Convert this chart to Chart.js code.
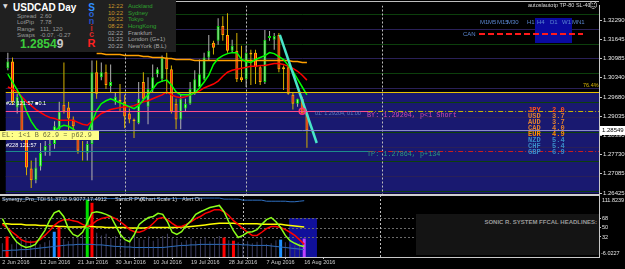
<!DOCTYPE html>
<html>
<head>
<meta charset="utf-8">
<title>USDCAD Day</title>
<script src="https://cdn.jsdelivr.net/npm/chart.js@4.4.1/dist/chart.umd.min.js"></script>
<style>
html,body{margin:0;padding:0;background:#000;}
#wrap{position:relative;width:625px;height:269px;overflow:hidden;background:#000;font-family:"Liberation Sans",Arial,sans-serif;}
#wrap canvas{position:absolute;left:0;}
.t{position:absolute;white-space:nowrap;line-height:1;}
.m{font-family:"Liberation Mono","DejaVu Sans Mono",monospace;}
.b{font-weight:bold;}
</style>
</head>
<body>
<div id="wrap">
<canvas id="main" width="625" height="200" style="top:0px"></canvas>
<canvas id="ind" width="625" height="74" style="top:195px"></canvas>
<div style="position:absolute;left:176px;top:1px;width:423px;height:1px;background:#bdbdbd"></div>
<div style="position:absolute;left:0;top:194px;width:599px;height:2px;background:#cfcfcf"></div>
<div style="position:absolute;left:0;top:0;width:176px;height:52px;background:#202020"></div>
<div style="position:absolute;left:535px;top:18px;width:37px;height:25px;background:#0a0aa0"></div>
<div style="position:absolute;left:416px;top:214px;width:183px;height:41px;background:#141414"></div>
<div style="position:absolute;left:0;top:131px;width:99px;height:9px;background:#ffff8a"></div>
<svg style="position:absolute;left:478px;top:32px" width="106" height="4"><line x1="1" y1="2" x2="105" y2="2" stroke="#ff1a1a" stroke-width="2" stroke-dasharray="6 3"/></svg>
</div>
<script>
// ---------------- DATA ----------------
const dates = [
'2 Jun 2016','3 Jun 2016','5 Jun 2016','6 Jun 2016','7 Jun 2016','8 Jun 2016','9 Jun 2016','10 Jun 2016',
'12 Jun 2016','13 Jun 2016','14 Jun 2016','15 Jun 2016','16 Jun 2016','17 Jun 2016','19 Jun 2016','20 Jun 2016',
'21 Jun 2016','22 Jun 2016','23 Jun 2016','24 Jun 2016','26 Jun 2016','27 Jun 2016','28 Jun 2016','29 Jun 2016',
'30 Jun 2016','1 Jul 2016','3 Jul 2016','4 Jul 2016','5 Jul 2016','6 Jul 2016','7 Jul 2016','8 Jul 2016',
'10 Jul 2016','11 Jul 2016','12 Jul 2016','13 Jul 2016','14 Jul 2016','15 Jul 2016','17 Jul 2016','18 Jul 2016',
'19 Jul 2016','20 Jul 2016','21 Jul 2016','22 Jul 2016','24 Jul 2016','25 Jul 2016','26 Jul 2016','27 Jul 2016',
'28 Jul 2016','29 Jul 2016','31 Jul 2016','1 Aug 2016','2 Aug 2016','3 Aug 2016','4 Aug 2016','5 Aug 2016',
'7 Aug 2016','8 Aug 2016','9 Aug 2016','10 Aug 2016','11 Aug 2016','12 Aug 2016','14 Aug 2016','15 Aug 2016',
'16 Aug 2016'];

const openP = [1.30657,1.30890,1.29324,1.29524,1.28358,1.27258,1.26858,1.27325,1.27858,1.28058,
1.28091,1.28591,1.29424,1.29324,1.28924,1.28258,1.27858,1.27791,1.28091,1.30524,
1.30357,1.30524,1.30057,1.29524,1.29591,1.29524,1.29124,1.28924,1.28791,1.30191,
1.29357,1.29957,1.30457,1.30291,1.31024,1.30624,1.29457,1.28924,1.29291,1.29457,
1.29791,1.30024,1.30291,1.31024,1.31524,1.31590,1.32090,1.31790,1.31257,1.31257,
1.30357,1.30291,1.31190,1.31190,1.30690,1.30191,1.31690,1.31624,1.31790,1.30690,
1.30690,1.29757,1.29457,1.29624,1.29124];
const highP = [1.31190,1.31024,1.29791,1.29624,1.28458,1.27525,1.27625,1.28124,1.28191,1.28424,
1.28858,1.29524,1.30857,1.29524,1.29024,1.28424,1.28191,1.28191,1.30924,1.30924,
1.30857,1.30790,1.30790,1.29857,1.30124,1.29757,1.29291,1.28958,1.30191,1.30524,
1.30357,1.30790,1.30690,1.31090,1.31190,1.30757,1.29624,1.29757,1.29624,1.30191,
1.30590,1.30957,1.31190,1.31790,1.31590,1.32357,1.32423,1.32523,1.31624,1.31857,
1.31424,1.31424,1.31290,1.31290,1.30757,1.31957,1.31923,1.31857,1.31857,1.30757,
1.30757,1.29857,1.29624,1.29691,1.29191];
const lowP = [1.30590,1.29424,1.29124,1.28191,1.27025,1.26592,1.26758,1.27191,1.27691,1.27691,
1.27925,1.28458,1.29124,1.28524,1.28358,1.27758,1.27525,1.27525,1.26858,1.29624,
1.30257,1.29957,1.29857,1.29424,1.29191,1.28624,1.28791,1.28291,1.28758,1.29524,
1.28758,1.29857,1.30357,1.30191,1.29791,1.29124,1.28591,1.28591,1.29191,1.29424,
1.29757,1.29957,1.30257,1.30924,1.31124,1.31457,1.31590,1.31190,1.31190,1.30191,
1.30191,1.30024,1.30091,1.30124,1.30091,1.30124,1.31590,1.31290,1.30524,1.29924,
1.29757,1.29257,1.29357,1.29124,1.27958];
const closeP = [1.30890,1.29524,1.29691,1.28358,1.27291,1.26858,1.27291,1.27791,1.28025,1.28091,
1.28691,1.29191,1.29191,1.28958,1.28691,1.27858,1.27825,1.28091,1.30524,1.29791,
1.30524,1.30091,1.30191,1.29691,1.29524,1.29024,1.28924,1.28858,1.29624,1.29624,
1.29957,1.30357,1.30624,1.31024,1.30624,1.29191,1.28924,1.29624,1.29457,1.29957,
1.30291,1.30457,1.31024,1.31257,1.31357,1.32090,1.31790,1.31257,1.31424,1.30291,
1.30257,1.31190,1.31124,1.30690,1.30191,1.31624,1.31757,1.31757,1.30624,1.30624,
1.29791,1.29457,1.29624,1.29124,1.28549];

const fastMA = [1.30457,1.30191,1.29924,1.29624,1.29191,1.28858,1.28624,1.28491,1.28458,1.28458,
1.28524,1.28658,1.28724,1.28691,1.28591,1.28458,1.28424,1.28458,1.28824,1.29224,
1.29457,1.29557,1.29624,1.29557,1.29491,1.29424,1.29357,1.29291,1.29391,1.29591,
1.29757,1.29957,1.30157,1.30224,1.30257,1.30091,1.29857,1.29757,1.29757,1.29757,
1.29824,1.29991,1.30191,1.30424,1.30790,1.30991,1.31090,1.31157,1.31190,1.31190,
1.30957,1.30890,1.30857,1.30957,1.31024,1.31090,1.31190,1.31157,1.31057,1.30957,
1.30757,1.30557,1.30291,1.30024,1.29757];
const slowMA = [1.30024,1.29957,1.29857,1.29691,1.29524,1.29391,1.29257,1.29158,1.29058,1.28991,
1.28958,1.28891,1.28891,1.28891,1.28891,1.28824,1.28758,1.28724,1.28858,1.28991,
1.29124,1.29191,1.29257,1.29291,1.29324,1.29357,1.29357,1.29391,1.29457,1.29524,
1.29557,1.29624,1.29691,1.29757,1.29857,1.29757,1.29691,1.29657,1.29691,1.29757,
1.29824,1.29891,1.29991,1.30057,1.30124,1.30224,1.30391,1.30524,1.30590,1.30624,
1.30657,1.30690,1.30724,1.30724,1.30757,1.30757,1.30790,1.30824,1.30824,1.30790,
1.30724,1.30657,1.30557,1.30424,1.30257];
const longMA = [null,null,null,null,null,null,null,null,null,null,
null,null,null,null,null,null,null,null,null,1.31157,
1.31157,1.31124,1.31124,1.31124,1.31124,1.31090,1.31090,1.31090,1.31090,1.31057,
1.31057,1.31024,1.31024,1.31024,1.30991,1.30991,1.30957,1.30957,1.30957,1.30957,
1.30924,1.30924,1.30924,1.30924,1.30924,1.30924,1.30924,1.30924,1.30924,1.30924,
1.30924,1.30924,1.30924,1.30924,1.30924,1.30924,1.30924,1.30924,1.30924,1.30924,
1.30924,1.30890,1.30890,1.30857,1.30857];

const priceTicks = [1.32290,1.31645,1.30985,1.30340,1.29680,1.29035,1.28390,1.27730,1.27085,1.26425];
const roundLevels = [1.3250,1.3200,1.3150,1.3100,1.3050,1.3000,1.2950,1.2900,1.2850,1.2800,1.2750,1.2700,1.2650];
const lastPrice = 1.28549;
const fibLevel = 1.29859;      // 76.4%
const zoneLow = 1.26410;
const entryPrice = 1.29204;
const tpPrice = 1.27864;
const objectEndIdx = 77.1;
const entryMarkIdx = 63;
const trendLine = [{i:58.2, p:1.31790},{i:66.1, p:1.28124}];
const monthSeparators = [25, 51, 80];

// TDI / PVA panel
const rsiLine = [67,50,35,23,16,12,14,18,31,44,63,78,82,71,48,37,33,41,59,78,80,78,75,71,54,37,27,23,37,56,
63,69,71,77,75,61,41,37,42,54,63,75,80,84,88,90,92,80,61,44,31,35,41,42,46,56,65,69,61,50,35,25,20,16,14];
const signalLine = [56,50,42,35,27,23,22,23,27,35,44,54,61,65,65,63,61,56,52,56,63,67,69,71,67,61,54,46,42,41,
44,50,58,67,69,65,58,52,52,56,61,67,71,77,80,84,84,80,73,63,56,48,41,35,35,41,48,52,52,50,46,41,35,27,18];
const baseLine = [57,57,56,56,56,55,55,55,54,54,53,53,52,52,51,51,51,51,52,52,51,51,50,50,50,50,50,49,49,49,
49,50,50,50,50,50,50,50,51,51,52,53,54,55,56,57,58,58,58,58,57,57,57,57,57,56,56,56,56,56,55,54,53,52,51];
const upperBand = [104,104,104,104,104,104,104,104,104,104,104,104,104,104,104,104,104,104,104,104,
104,105,105,105,105,105,105,105,105,105,105,105,105,105,105,105,105,105,105,105,
105,106,106,106,106,106,106,104,104,104,104,102,102,102,102,102,100,100,100,100,100,99,99,100,101];
const lowerBand = [6,6,7,7,8,8,9,10,11,12,13,14,15,16,17,17,18,18,18,18,17,17,16,15,14,14,13,13,12,12,
12,12,12,12,12,13,14,15,16,16,17,17,18,18,18,18,18,18,18,18,18,17,17,16,16,16,16,15,14,13,12,11,10,9,8];
const volGrey = [20,null,18,24,27,30,26,22,18,22,26,null,null,28,24,30,33,36,null,null,
40,35,38,30,34,28,24,32,36,30,27,33,25,29,34,38,30,28,22,26,30,25,28,32,24,30,34,null,26,null,
22,28,24,20,23,30,18,20,26,null,22,18,16,20,null];
const pvaBars = [{i:1,v:33,kind:'bear'},{i:11,v:42,kind:'rise'},{i:12,v:52,kind:'bear'},{i:18,v:103,kind:'bull'},
{i:19,v:97,kind:'bear'},{i:47,v:31,kind:'bear'},{i:49,v:25,kind:'bear'},{i:59,v:27,kind:'rise'},{i:64,v:29,kind:'riseBear'}];
const indLevels = [68,50,32];
const indMax = 111.8239, indMin = -6.0227;
const indBoxFrom = 60.8, indBoxTo = 66.7;

const currencies = ['JPY','USD','AUD','CAD','EUR','NZD','CHF','GBP'];
const strengths = ['2.0','3.7','3.7','4.0','4.9','5.4','5.4','6.9'];
const sessionTimes = ['12:22','10:22','09:22','08:22','02:22','01:22','20:22'];
const sessionNames = ['Auckland','Sydney','Tokyo','HongKong','Frankfurt','London  (G+1)','NewYork  (B.L)'];
const timeframes = ['M1','M5','M15','M30','H1','H4','D1','W1','MN1'];

// ---------------- STYLE ----------------
const STYLE = {
  zone:'#191970', round50:'#0c3f0c', round00:'#2a2058', sep:'#bdbdbd',
  fib:'#e6c200', entry:'#ff4f8a', entryExt:'#c8b400', bid:'#8c8cc8', tp:'#1e8c8c', tpExt:'#c81e1e',
  bullBody:'#90ff90', bullEdge:'#00dd00', bearBody:'#ff1a1a', bearEdge:'#ffae00',
  bullWick:'#b4b4b4', bearWick:'#d4b000',
  fast:'#00ff00', slow:'#ff0000', long:'#ff9f00', trend:'#48e6c8', mark:'#ff3070',
  vol:'#3f3f62', band:'#2f6fc0', base:'#ffff00', rsi:'#8cff1a', signal:'#ff0000',
  indBox:'#10109a', indLevel:'#6a6a6a', axis:'#c8c8c8', axisText:'#e6e6e6'
};
const PVA_COLORS = {bull:'#00e000', bear:'#ff0000', rise:'#1e90ff', riseBear:'#c040ff'};

Chart.defaults.font.family = '"Liberation Sans", Arial, sans-serif';
const X_MIN = -0.5, X_MAX = 126.5;
const Y_MAX = 1.32790, Y_MIN = 1.26392;
const idx = dates.map((_, i) => i);
const isBull = i => closeP[i] >= openP[i];

function hline(ctx, x0, x1, yy, color, dash, w) {
  ctx.save(); ctx.strokeStyle = color; ctx.lineWidth = w || 1; ctx.setLineDash(dash || []);
  const py = Math.round(yy) + 0.5;
  ctx.beginPath(); ctx.moveTo(x0, py); ctx.lineTo(x1, py); ctx.stroke(); ctx.restore();
}
function vline(ctx, xx, y0, y1, color, dash) {
  ctx.save(); ctx.strokeStyle = color; ctx.lineWidth = 1; ctx.setLineDash(dash || []);
  const px = Math.round(xx) + 0.5;
  ctx.beginPath(); ctx.moveTo(px, y0); ctx.lineTo(px, y1); ctx.stroke(); ctx.restore();
}

const mainDecor = {
  id:'mainDecor',
  beforeDatasetsDraw(chart) {
    const {ctx, chartArea:a, scales:{x, y}} = chart;
    ctx.save();
    ctx.beginPath(); ctx.rect(a.left, a.top, a.right - a.left, a.bottom - a.top); ctx.clip();
    const zt = y.getPixelForValue(fibLevel), zb = y.getPixelForValue(zoneLow);
    ctx.fillStyle = STYLE.zone; ctx.fillRect(a.left, zt, a.right - a.left, zb - zt);
    roundLevels.forEach(p => {
      const c = Math.round(p * 10000) % 100 === 50 ? STYLE.round50 : STYLE.round00;
      hline(ctx, a.left, a.right, y.getPixelForValue(p), c, [], 1);
    });
    monthSeparators.forEach(i => vline(ctx, x.getPixelForValue(i), a.top, a.bottom, STYLE.sep, [2,2]));
    ctx.restore();
  },
  afterDatasetsDraw(chart) {
    const {ctx, chartArea:a, scales:{x, y}} = chart;
    ctx.save();
    ctx.beginPath(); ctx.rect(a.left, a.top, a.right - a.left, a.bottom - a.top); ctx.clip();
    const split = x.getPixelForValue(objectEndIdx);
    hline(ctx, a.left, a.right, y.getPixelForValue(fibLevel), STYLE.fib, [], 1);
    hline(ctx, a.left, split, y.getPixelForValue(entryPrice), STYLE.entry, [], 1);
    hline(ctx, split, a.right, y.getPixelForValue(entryPrice), STYLE.entryExt, [5,2,1,2], 1);
    hline(ctx, a.left, a.right, y.getPixelForValue(lastPrice), STYLE.bid, [], 1);
    hline(ctx, a.left, split, y.getPixelForValue(tpPrice), STYLE.tp, [], 1);
    hline(ctx, split, a.right, y.getPixelForValue(tpPrice), STYLE.tpExt, [5,2,1,2], 1);
    ctx.restore();
  },
  afterDraw(chart) {
    const {ctx, chartArea:a, scales:{y}} = chart;
    const py = y.getPixelForValue(lastPrice);
    ctx.save();
    ctx.fillStyle = '#ffffff'; ctx.fillRect(a.right + 1, Math.round(py) - 4, 25, 9);
    ctx.fillStyle = '#000000'; ctx.font = '6px "Liberation Sans"'; ctx.textBaseline = 'middle'; ctx.textAlign = 'left';
    ctx.fillText(lastPrice.toFixed(5), a.right + 3, Math.round(py) + 0.5);
    ctx.restore();
  }
};

new Chart(document.getElementById('main'), {
  type:'bar',
  data:{ datasets:[
    { type:'bar', label:'wick', order:10, grouped:false, maxBarThickness:1,
      data: idx.map(i => ({x:i, y:[lowP[i], highP[i]]})),
      backgroundColor: c => isBull(c.dataIndex) ? STYLE.bullWick : STYLE.bearWick },
    { type:'bar', label:'body', order:9, grouped:false, maxBarThickness:3, borderWidth:1, borderSkipped:false,
      data: idx.map(i => ({x:i, y:[openP[i], closeP[i]]})),
      backgroundColor: c => isBull(c.dataIndex) ? STYLE.bullBody : STYLE.bearBody,
      borderColor: c => isBull(c.dataIndex) ? STYLE.bullEdge : STYLE.bearEdge },
    { type:'line', label:'long', order:5, data: idx.map(i => ({x:i, y:longMA[i]})),
      borderColor:STYLE.long, borderWidth:1.5, pointRadius:0, tension:0 },
    { type:'line', label:'slow', order:4, data: idx.map(i => ({x:i, y:slowMA[i]})),
      borderColor:STYLE.slow, borderWidth:1.5, pointRadius:0, tension:0 },
    { type:'line', label:'fast', order:3, data: idx.map(i => ({x:i, y:fastMA[i]})),
      borderColor:STYLE.fast, borderWidth:1.5, pointRadius:0, tension:0 },
    { type:'line', label:'trend', order:2, data: trendLine.map(t => ({x:t.i, y:t.p})),
      borderColor:STYLE.trend, borderWidth:2.5, pointRadius:0 },
    { type:'line', label:'entry', order:1, showLine:false, data:[{x:entryMarkIdx, y:entryPrice}],
      pointRadius:3, pointBorderWidth:1.5, pointBorderColor:STYLE.mark, pointBackgroundColor:'rgba(0,0,0,0)' }
  ]},
  options:{
    responsive:false, animation:false, events:[],
    layout:{ padding:{ top:2, bottom:6, left:0, right:0 } },
    plugins:{ legend:{display:false}, tooltip:{enabled:false} },
    scales:{
      x:{ type:'linear', min:X_MIN, max:X_MAX, offset:false, display:false },
      y:{ type:'linear', position:'right', min:Y_MIN, max:Y_MAX, beginAtZero:false,
          afterBuildTicks: s => { s.ticks = priceTicks.map(v => ({value:v})); },
          afterFit: s => { s.width = 26; s.paddingTop = 0; s.paddingBottom = 0; },
          ticks:{ color:STYLE.axisText, font:{size:6}, padding:1, autoSkip:false, callback: v => Number(v).toFixed(5) },
          grid:{ drawOnChartArea:false, drawTicks:true, tickLength:3, tickColor:STYLE.axis },
          border:{ display:true, color:STYLE.axis } }
    }
  },
  plugins:[mainDecor]
});

const indDecor = {
  id:'indDecor',
  beforeDatasetsDraw(chart) {
    const {ctx, chartArea:a, scales:{x, y}} = chart;
    ctx.save();
    ctx.beginPath(); ctx.rect(a.left, a.top, a.right - a.left, a.bottom - a.top); ctx.clip();
    const bx0 = x.getPixelForValue(indBoxFrom), bx1 = x.getPixelForValue(indBoxTo);
    const by0 = y.getPixelForValue(indLevels[0]);
    ctx.fillStyle = STYLE.indBox; ctx.fillRect(bx0, by0, bx1 - bx0, a.bottom - by0);
    indLevels.forEach(v => hline(ctx, a.left, a.right, y.getPixelForValue(v), STYLE.indLevel, [2,2], 1));
    monthSeparators.forEach(i => vline(ctx, x.getPixelForValue(i), a.top, a.bottom, STYLE.sep, [2,2]));
    ctx.restore();
  },
  afterDraw(chart) {
    const {ctx, chartArea:a} = chart;
    ctx.save();
    ctx.fillStyle = STYLE.axisText; ctx.font = '5.5px "Liberation Sans"'; ctx.textBaseline = 'middle'; ctx.textAlign = 'left';
    ctx.fillText(indMax.toFixed(4), a.right + 3, a.top + 5);
    ctx.fillText(indMin.toFixed(4), a.right + 2, a.bottom - 4);
    ctx.restore();
  }
};

new Chart(document.getElementById('ind'), {
  type:'bar',
  data:{ datasets:[
    { type:'bar', label:'vol', order:10, grouped:false, maxBarThickness:1,
      data: idx.map(i => ({x:i, y: volGrey[i] == null ? null : [indMin, volGrey[i]]})),
      backgroundColor:STYLE.vol },
    { type:'bar', label:'pva', order:9, grouped:false, maxBarThickness:3,
      data: pvaBars.map(b => ({x:b.i, y:[indMin, b.v]})),
      backgroundColor: c => PVA_COLORS[pvaBars[c.dataIndex].kind] },
    { type:'line', label:'upper', order:7, data: idx.map(i => ({x:i, y:upperBand[i]})),
      borderColor:STYLE.band, borderWidth:1, pointRadius:0 },
    { type:'line', label:'lower', order:7, data: idx.map(i => ({x:i, y:lowerBand[i]})),
      borderColor:STYLE.band, borderWidth:1, pointRadius:0 },
    { type:'line', label:'base', order:6, data: idx.map(i => ({x:i, y:baseLine[i]})),
      borderColor:STYLE.base, borderWidth:1.5, pointRadius:0 },
    { type:'line', label:'signal', order:5, data: idx.map(i => ({x:i, y:signalLine[i]})),
      borderColor:STYLE.signal, borderWidth:1.5, pointRadius:0 },
    { type:'line', label:'rsi', order:4, data: idx.map(i => ({x:i, y:rsiLine[i]})),
      borderColor:STYLE.rsi, borderWidth:1.5, pointRadius:0 }
  ]},
  options:{
    responsive:false, animation:false, events:[],
    layout:{ padding:{ top:0, bottom:0, left:0, right:0 } },
    plugins:{ legend:{display:false}, tooltip:{enabled:false} },
    scales:{
      x:{ type:'linear', position:'bottom', min:X_MIN, max:X_MAX, offset:false,
          afterBuildTicks: s => { s.ticks = idx.filter(i => i % 8 === 0).map(i => ({value:i})); },
          afterFit: s => { s.height = 12; s.paddingLeft = 0; s.paddingRight = 0; },
          ticks:{ color:'#d0d0d0', font:{size:5.5}, padding:0, align:'start', maxRotation:0, autoSkip:false,
                  callback: v => dates[v] },
          grid:{ drawOnChartArea:false, drawTicks:true, tickLength:2, tickColor:STYLE.axis },
          border:{ display:true, color:STYLE.axis } },
      y:{ type:'linear', position:'right', min:indMin, max:indMax, beginAtZero:false,
          afterBuildTicks: s => { s.ticks = indLevels.map(v => ({value:v})); },
          afterFit: s => { s.width = 26; s.paddingTop = 0; s.paddingBottom = 0; },
          ticks:{ color:STYLE.axisText, font:{size:5.5}, padding:1, autoSkip:false, callback: v => String(v) },
          grid:{ drawOnChartArea:false, drawTicks:true, tickLength:2, tickColor:STYLE.axis },
          border:{ display:true, color:STYLE.axis } }
    }
  },
  plugins:[indDecor]
});

// ---------------- TEXT OVERLAYS ----------------
const wrap = document.getElementById('wrap');
function addText(txt, left, top, size, color, o) {
  o = o || {};
  const d = document.createElement('div');
  d.className = 't' + (o.mono ? ' m' : '') + (o.bold ? ' b' : '');
  d.textContent = txt;
  d.style.top = top + 'px'; d.style.fontSize = size + 'px'; d.style.color = color;
  if (o.right != null) d.style.right = o.right + 'px'; else d.style.left = left + 'px';
  if (o.family) d.style.fontFamily = o.family;
  wrap.appendChild(d); return d;
}
// info panel
addText('\u25BC', 3, 3, 6, '#dddddd', {family:'"DejaVu Sans"'});
addText('USDCAD', 13, 2.6, 10, '#ffffff', {bold:true});
addText('Day', 58, 2.6, 10, '#ffffff', {bold:true});
[['Spread','2.60'],['LotPip','7.78'],['Range','111, 120'],['Swaps','-0.07, -0.27']].forEach((r, k) => {
  const top = 12.8 + k * 6.4;
  addText(r[0], 17, top, 6, '#9a9a9a'); addText(r[1], 40, top, 6, '#9a9a9a');
});
const pd = addText('', 20, 37.6, 12, '#3ccc3c', {bold:true});
const p1 = document.createElement('span'); p1.textContent = lastPrice.toFixed(5).slice(0, -1);
const p2 = document.createElement('span'); p2.textContent = lastPrice.toFixed(5).slice(-1); p2.style.color = '#c8c8c8';
pd.appendChild(p1); pd.appendChild(p2);
[['S',10,2.6,'#2f8fff'],['o',9,9.8,'#2a62d8'],['n',9,16.6,'#2a52c8'],['i',9,24,'#c02828'],['c',9,29.8,'#d82828'],['R',11,37.6,'#ff2020']]
  .forEach(s => { const d = addText(s[0], 86, s[2], s[1], s[3], {bold:true}); d.style.width = '11px'; d.style.textAlign = 'center'; });
sessionTimes.forEach((t, k) => {
  const top = 3.1 + k * 6.6;
  const early = k < 4;
  addText(t, 108, top, 6, early ? '#c8962a' : '#a8a8a8');
  addText(sessionNames[k], 128, top, 6, early ? '#2ea02e' : '#a8a8a8');
});
// top right
addText('autoslautotp TP-80 SL-40', 528, 3.3, 5.5, '#dcdcdc');
addText('\u263A', 589, 1, 8.5, '#dcdcdc', {family:'"DejaVu Sans"'});
const tfX = [480, 488, 497, 507, 527, 537, 550, 562, 572];
timeframes.forEach((t, k) => addText(t, tfX[k], 19.1, 6, '#5a86d0'));
addText('CAN', 463, 31, 6, '#5a86d0');
// chart objects text
addText('76.4%', 583, 83.3, 5.5, '#d8b400');
addText('#22 121:57 \u25A00.1', 6, 101.3, 5.5, '#ffffff');
addText('#228 121:57', 6, 143.3, 5.5, '#ffffff');
addText('EL: 1<1 B 62.9 = p62.9', 2, 132, 6.8, '#6e6e3c', {mono:true});
addText('01: 1.29204, 01.00', 315, 111.3, 5.5, '#5f7fbf');
addText('BY: ' + entryPrice.toFixed(5) + ', p<1 Short', 367, 111.7, 6.8, '#c94bb0', {mono:true});
addText('TP: ' + tpPrice.toFixed(5) + ', p+134', 367, 151.2, 6.8, '#2c9c80', {mono:true});
const curColors = ['#ff5020','#e08030','#e08030','#e08030','#ff8c00','#3a8cc8','#3a8cc8','#3a8cc8'];
currencies.forEach((c, k) => {
  const top = 106.6 + k * 6;
  addText(c, 528, top, 7, curColors[k], {mono:true, bold:true});
  addText(strengths[k], 552, top, 7, curColors[k], {mono:true, bold:true});
});
// indicator texts
addText('Synergy_Pro_TDI 51.3732 9.9077 17.4912', 2, 197.3, 5.5, '#d8d8d8');
addText('SonicR PVA', 115, 197.3, 5.5, '#d8d8d8');
addText('(Chart Scale 1)', 140, 197.3, 5.5, '#d8d8d8');
addText('Alert On', 182, 197.3, 5.5, '#d8d8d8');
addText('SONIC R. SYSTEM  FFCAL HEADLINES:', 0, 219, 6, '#9a9a9a', {bold:true, right:28});
</script>
</body>
</html>
